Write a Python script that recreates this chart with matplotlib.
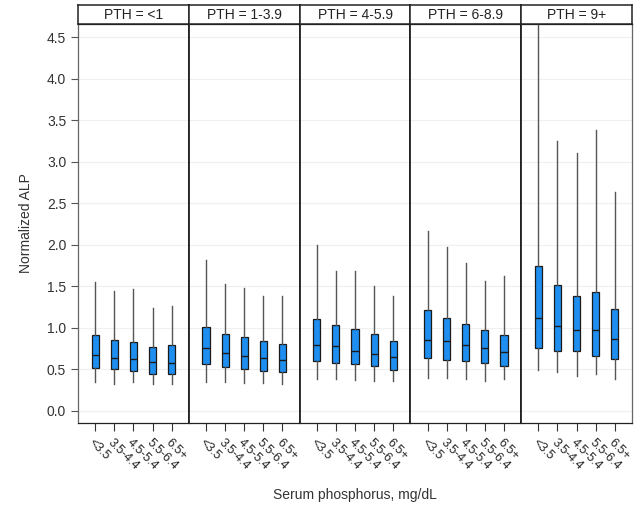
import matplotlib
matplotlib.use("Agg")
import matplotlib.pyplot as plt

plt.rcParams["font.family"] = ["Liberation Sans", "DejaVu Sans"]

# panel titles and category labels
pth_groups = ["PTH = <1", "PTH = 1-3.9", "PTH = 4-5.9", "PTH = 6-8.9", "PTH = 9+"]
phos_labels = ["<3.5", "3.5-4.4", "4.5-5.4", "5.5-6.4", "6.5+"]

# box statistics per panel
whisker_low = [
    [0.345, 0.33, 0.345, 0.32, 0.33],
    [0.35, 0.35, 0.34, 0.34, 0.33],
    [0.38, 0.39, 0.37, 0.36, 0.36],
    [0.40, 0.40, 0.38, 0.36, 0.38],
    [0.49, 0.465, 0.42, 0.44, 0.39],
]
q1 = [
    [0.52, 0.50, 0.48, 0.45, 0.45],
    [0.565, 0.53, 0.50, 0.48, 0.47],
    [0.60, 0.58, 0.56, 0.54, 0.49],
    [0.64, 0.61, 0.60, 0.58, 0.54],
    [0.76, 0.72, 0.72, 0.66, 0.63],
]
median = [
    [0.67, 0.64, 0.62, 0.59, 0.58],
    [0.76, 0.70, 0.66, 0.64, 0.61],
    [0.79, 0.78, 0.72, 0.69, 0.65],
    [0.86, 0.84, 0.79, 0.76, 0.71],
    [1.125, 1.02, 0.98, 0.97, 0.87],
]
q3 = [
    [0.92, 0.85, 0.83, 0.765, 0.79],
    [1.01, 0.93, 0.89, 0.84, 0.81],
    [1.11, 1.04, 0.99, 0.93, 0.84],
    [1.21, 1.12, 1.05, 0.98, 0.92],
    [1.74, 1.52, 1.39, 1.43, 1.23],
]
whisker_high = [
    [1.55, 1.44, 1.47, 1.24, 1.27],
    [1.82, 1.53, 1.485, 1.38, 1.38],
    [2.00, 1.68, 1.68, 1.50, 1.39],
    [2.17, 1.98, 1.78, 1.56, 1.63],
    [4.75, 3.25, 3.11, 3.38, 2.64],
]
y_ticks = [0.0, 0.5, 1.0, 1.5, 2.0, 2.5, 3.0, 3.5, 4.0, 4.5]

fig = plt.figure(figsize=(6.44, 5.09), dpi=100)

left, right = 78 / 644, 632 / 644
bottom, top = 86 / 509, 485 / 509
strip_h = 19 / 509
panel_w = (right - left) / len(pth_groups)

box_color = "#1e8ff0"
positions = list(range(1, len(phos_labels) + 1))

for p, title in enumerate(pth_groups):
    ax = fig.add_axes([left + p * panel_w, bottom, panel_w, top - bottom])
    stats = []
    for i in range(len(phos_labels)):
        stats.append({
            "whislo": whisker_low[p][i],
            "q1": q1[p][i],
            "med": median[p][i],
            "q3": q3[p][i],
            "whishi": whisker_high[p][i],
            "fliers": [],
        })
    ax.bxp(
        stats,
        positions=positions,
        widths=0.37,
        patch_artist=True,
        showcaps=False,
        showfliers=False,
        boxprops=dict(facecolor=box_color, edgecolor="#1a1a1a", linewidth=0.9),
        medianprops=dict(color="#1a1a1a", linewidth=1.0),
        whiskerprops=dict(color="#555555", linewidth=1.0),
        zorder=3,
    )
    ax.set_xlim(0.1, 5.9)
    ax.set_ylim(-0.145, 4.66)
    ax.set_yticks(y_ticks)
    ax.grid(axis="y", color="#f0f0f0", linewidth=0.9, zorder=0)
    ax.set_axisbelow(True)
    ax.set_xticks(positions)
    ax.set_xticklabels(phos_labels, rotation=-45, ha="left", va="top",
                       rotation_mode="anchor", fontsize=9, color="#222222")
    ax.tick_params(axis="x", length=6, width=0.8, color="#333333", pad=4)
    if p == 0:
        ax.set_yticklabels([f"{v:.1f}" for v in y_ticks], fontsize=10,
                           color="#333333")
        ax.tick_params(axis="y", length=5, width=0.8, color="#555555")
        ax.set_ylabel("Normalized ALP", fontsize=10, color="#333333",
                      labelpad=10)
    else:
        ax.tick_params(axis="y", left=False, labelleft=False)
    for side, spine in ax.spines.items():
        spine.set_color("#222222")
        spine.set_linewidth(1.3 if side in ("left", "right") else 0.9)
    if p == 0:
        ax.spines["left"].set_color("#666666")
        ax.spines["left"].set_linewidth(0.9)
    if p == len(pth_groups) - 1:
        ax.spines["right"].set_color("#666666")
        ax.spines["right"].set_linewidth(0.9)

    # header strip
    hx = fig.add_axes([left + p * panel_w, top, panel_w, strip_h])
    hx.set_xticks([])
    hx.set_yticks([])
    for spine in hx.spines.values():
        spine.set_color("#222222")
        spine.set_linewidth(1.1)
    hx.text(0.5, 0.45, title, ha="center", va="center", fontsize=10,
            color="#222222", transform=hx.transAxes)

fig.text((left + right) / 2, 14 / 509, "Serum phosphorus, mg/dL",
         ha="center", va="center", fontsize=10, color="#333333")

fig.savefig("out.png", dpi=100)
